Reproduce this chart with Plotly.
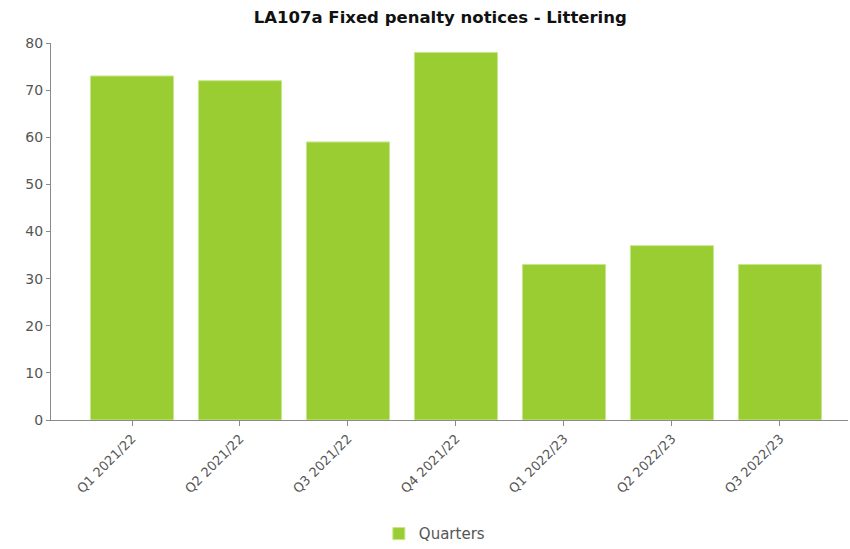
import plotly.graph_objects as go

# Quarterly fixed penalty notices issued for littering
quarters = ["Q1 2021/22", "Q2 2021/22", "Q3 2021/22", "Q4 2021/22",
            "Q1 2022/23", "Q2 2022/23", "Q3 2022/23"]
notices = [73, 72, 59, 78, 33, 37, 33]
y_ticks = [0, 10, 20, 30, 40, 50, 60, 70, 80]

fig = go.Figure()
fig.add_trace(go.Bar(
    x=quarters,
    y=notices,
    name="Quarters",
    marker=dict(color="#9acd32", line=dict(color="#c8e68c", width=1)),
    width=0.77,
    showlegend=True,
))

fig.update_layout(
    width=850,
    height=549,
    margin=dict(l=51, r=2, t=43, b=129, autoexpand=False),
    paper_bgcolor="white",
    plot_bgcolor="white",
    font=dict(family="DejaVu Sans", color="#444444"),
    title=dict(
        text="<b>LA107a Fixed penalty notices - Littering</b>",
        x=0.518, xanchor="center", y=0.968, yanchor="middle",
        font=dict(family="DejaVu Sans", size=16.5, color="#111111"),
    ),
    xaxis=dict(
        type="category",
        range=[-0.75, 6.63],
        automargin=False,
        showline=True, linecolor="#8a8a8a", linewidth=1,
        ticks="outside", ticklen=5, tickcolor="#8a8a8a",
        tickangle=-45,
        tickfont=dict(size=13, color="#555555"),
        showgrid=False,
    ),
    yaxis=dict(
        range=[0, 80],
        tickvals=y_ticks,
        automargin=False,
        showline=True, linecolor="#8a8a8a", linewidth=1,
        ticks="outside", ticklen=4, tickcolor="#8a8a8a",
        tickfont=dict(size=14, color="#555555"),
        showgrid=False,
        zeroline=False,
    ),
    legend=dict(
        orientation="h",
        x=0.481, xanchor="center",
        y=-0.302, yanchor="middle",
        font=dict(size=15, color="#555555"),
    ),
    bargap=0.23,
)

fig.write_html("out.html")
